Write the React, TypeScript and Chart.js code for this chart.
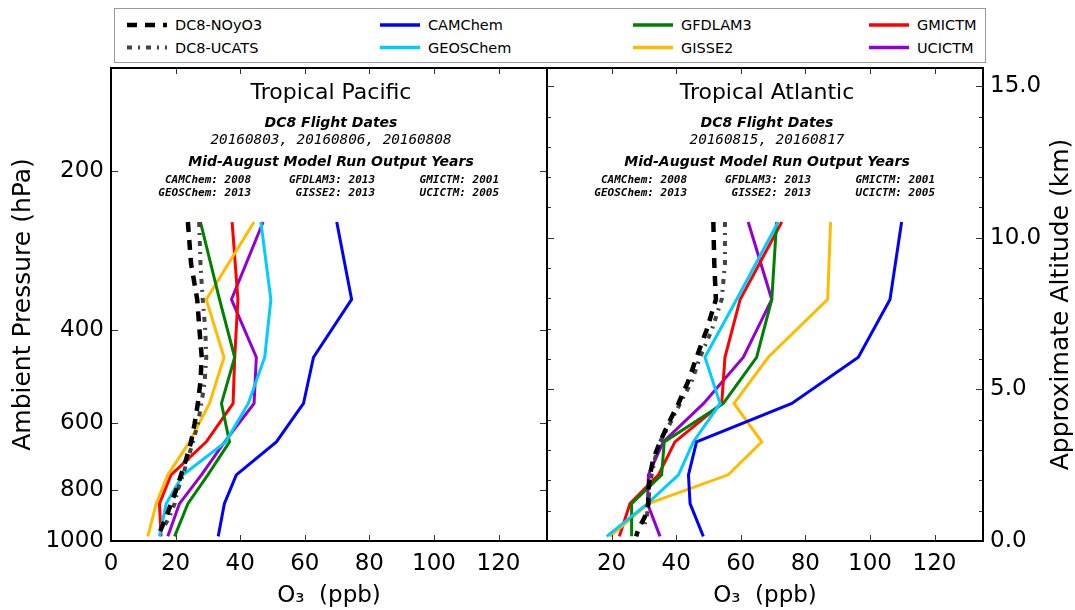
import React, { useEffect, useRef } from 'react';
import { Chart, registerables } from 'chart.js';

Chart.register(...registerables);

const SANS = '"DejaVu Sans", "Liberation Sans", sans-serif';
const MONO = '"DejaVu Sans Mono", "Liberation Mono", monospace';

// ---- axes ----
const xTicks = [0, 20, 40, 60, 80, 100, 120];
const pressureTicks = [200, 400, 600, 800, 1000];
const altitudeTicks = [0, 1, 2, 3, 4, 5, 6, 7, 8, 9, 10, 11, 12, 13, 14, 15];

// ---- vertical levels (hPa) ----
const modelLevels = [250, 350, 450, 550, 650, 750, 850, 980];
const obsLevels = [250, 300, 350, 400, 450, 500, 550, 600, 650, 700, 750, 800, 850, 900, 950, 980];
const ucatsLevels = [250, 300, 350, 400, 450, 500, 550, 600, 650, 700, 750, 800, 850, 900, 950];

// ---- Tropical Pacific (O3 ppb) ----
const pacNOyO3 = [23.8, 24.8, 26.7, 27.4, 28.1, 27.7, 26.9, 25.9, 24.8, 23.3, 21.7, 20.2, 18.6, 17.1, 15.5, 14.5];
const pacUCATS = [27.3, 27.7, 28.4, 29.2, 29.5, 29.0, 28.0, 26.9, 25.4, 23.8, 22.3, 20.7, 19.7, 18.1, 16.0];
const pacCAMChem = [69.9, 74.5, 62.7, 59.6, 51.2, 38.8, 35.1, 33.2];
const pacGEOSChem = [46.4, 49.5, 47.6, 42.5, 35.5, 22.3, 17.1, 15.0];
const pacGFDLAM3 = [27.7, 33.6, 38.3, 34.2, 36.7, 30.0, 23.8, 19.7];
const pacGISSE2 = [44.3, 29.5, 35.0, 30.5, 24.3, 17.6, 14.0, 11.4];
const pacGMICTM = [37.5, 39.3, 38.3, 37.8, 29.5, 18.6, 15.0, 15.5];
const pacUCICTM = [47.1, 37.3, 45.0, 44.3, 35.2, 28.0, 21.2, 17.6];

// ---- Tropical Atlantic (O3 ppb) ----
const atlNOyO3 = [51.5, 51.8, 52.3, 49.4, 46.3, 43.7, 40.7, 37.6, 35.0, 32.9, 31.9, 31.4, 31.4, 30.3, 28.3, 27.6];
const atlUCATS = [55.1, 55.1, 54.1, 51.0, 47.4, 44.8, 41.2, 38.1, 35.0, 33.4, 32.4, 31.7, 31.4, 30.9, 29.8];
const atlCAMChem = [109.8, 106.2, 96.4, 75.8, 46.3, 43.8, 44.3, 48.4];
const atlGEOSChem = [71.6, 58.7, 48.9, 53.6, 45.3, 40.7, 31.1, 18.5];
const atlGFDLAM3 = [71.1, 69.6, 64.9, 54.6, 36.3, 35.5, 26.2, 26.2];
const atlGISSE2 = [87.8, 86.9, 68.5, 57.9, 66.5, 56.1, 31.4, 19.5];
const atlGMICTM = [72.7, 59.8, 55.1, 54.1, 39.6, 34.5, 25.7, 22.4];
const atlUCICTM = [62.3, 69.6, 60.8, 48.5, 36.0, 31.4, 31.1, 35.0];

// ---- text ----
const panelTitles = ['Tropical Pacific', 'Tropical Atlantic'];
const flightDates = ['20160803, 20160806, 20160808', '20160815, 20160817'];
const modelYearsRow1 = ['CAMChem: 2008', 'GFDLAM3: 2013', 'GMICTM: 2001'];
const modelYearsRow2 = ['GEOSChem: 2013', 'GISSE2: 2013', 'UCICTM: 2005'];

const COLORS = {
  NOyO3: '#000000',
  UCATS: '#444444',
  CAMChem: '#0000ff',
  GEOSChem: '#00ccff',
  GFDLAM3: '#008000',
  GISSE2: '#ffbb00',
  GMICTM: '#ff0000',
  UCICTM: '#9400d3',
};
const NOYO3_DASH = [10, 8];
const UCATS_DASH = [5, 6, 2, 6];

function pts(vals: number[], levels: number[]) {
  return vals.map((v, i) => ({ x: v, y: levels[i] }));
}

function buildDatasets(obs1: number[], obs2: number[], models: number[][]) {
  const names = ['CAMChem', 'GEOSChem', 'GFDLAM3', 'GISSE2', 'GMICTM', 'UCICTM'];
  const base = { pointRadius: 0, fill: false, tension: 0 };
  return [
    { ...base, label: 'DC8-NOyO3', data: pts(obs1, obsLevels), borderColor: COLORS.NOyO3, borderWidth: 4.5, borderDash: NOYO3_DASH },
    { ...base, label: 'DC8-UCATS', data: pts(obs2, ucatsLevels), borderColor: COLORS.UCATS, borderWidth: 4, borderDash: UCATS_DASH },
    ...names.map((n, i) => ({
      ...base,
      label: n,
      data: pts(models[i], modelLevels),
      borderColor: (COLORS as any)[n],
      borderWidth: 3,
    })),
  ];
}

function makeFramePlugin(vScale: string, vTicks: number[], majorStep: number) {
  return {
    id: 'frame',
    afterDatasetsDraw(chart: any) {
      const { ctx, chartArea } = chart;
      const { left, right, top, bottom } = chartArea;
      const xs = chart.scales.x;
      const vs = chart.scales[vScale];
      ctx.save();
      ctx.strokeStyle = '#333';
      ctx.lineWidth = 1;
      ctx.beginPath();
      for (const v of xTicks) {
        const px = Math.round(xs.getPixelForValue(v)) + 0.5;
        ctx.moveTo(px, bottom);
        ctx.lineTo(px, bottom - 6);
        ctx.moveTo(px, top);
        ctx.lineTo(px, top + 6);
      }
      for (const v of vTicks) {
        const py = Math.round(vs.getPixelForValue(v)) + 0.5;
        const len = v % majorStep === 0 ? 7 : 4;
        ctx.moveTo(left, py);
        ctx.lineTo(left + len, py);
        ctx.moveTo(right, py);
        ctx.lineTo(right - len, py);
      }
      ctx.stroke();
      ctx.strokeStyle = '#000';
      ctx.lineWidth = 2;
      ctx.strokeRect(left, top, right - left, bottom - top);
      ctx.restore();
    },
  };
}

function makeTextPlugin(idx: number, rightTitle: string | null) {
  return {
    id: 'panelText',
    afterDraw(chart: any) {
      const { ctx, chartArea } = chart;
      const { left, right, top, bottom } = chartArea;
      const cx = (left + right) / 2 + 2;
      ctx.save();
      ctx.fillStyle = '#000';
      ctx.textBaseline = 'middle';
      ctx.textAlign = 'center';
      ctx.font = `22px ${SANS}`;
      ctx.fillText(panelTitles[idx], cx, top + 25);
      ctx.font = `italic bold 14px ${SANS}`;
      ctx.fillText('DC8 Flight Dates', cx, top + 55);
      ctx.font = `italic 14.3px ${MONO}`;
      ctx.fillText(flightDates[idx], cx, top + 72);
      ctx.font = `italic bold 14px ${SANS}`;
      ctx.fillText('Mid-August Model Run Output Years', cx, top + 94);
      ctx.font = `italic bold 11px ${MONO}`;
      ctx.textAlign = 'right';
      const colRights = [140, 264, 388];
      colRights.forEach((cr, i) => {
        ctx.fillText(modelYearsRow1[i], left + cr, top + 112);
        ctx.fillText(modelYearsRow2[i], left + cr, top + 125);
      });
      if (rightTitle) {
        ctx.save();
        ctx.translate(right + 78, (top + bottom) / 2);
        ctx.rotate(-Math.PI / 2);
        ctx.textAlign = 'center';
        ctx.font = `25px ${SANS}`;
        ctx.fillText(rightTitle, 0, 0);
        ctx.restore();
      }
      ctx.restore();
    },
  };
}

function xScale(showZero: boolean) {
  return {
    type: 'linear',
    min: 0,
    max: 135,
    position: 'bottom',
    grid: { display: false, drawTicks: false },
    border: { display: false },
    afterBuildTicks: (s: any) => {
      s.ticks = xTicks.map((v) => ({ value: v }));
    },
    afterFit: (s: any) => {
      s.height = 69;
    },
    ticks: {
      color: '#000',
      font: { family: SANS, size: 23 },
      padding: 9,
      autoSkip: false,
      maxRotation: 0,
      callback: (v: any) => (v === 0 && !showZero ? '' : String(v)),
    },
    title: {
      display: true,
      text: 'O₃  (ppb)',
      color: '#000',
      font: { family: SANS, size: 23 },
      padding: { top: 0, bottom: 0 },
    },
  };
}

function pressureScale(display: boolean) {
  return {
    type: 'logarithmic',
    reverse: true,
    min: 128,
    max: 1000,
    position: 'left',
    display,
    grid: { display: false, drawTicks: false },
    border: { display: false },
    afterBuildTicks: (s: any) => {
      s.ticks = pressureTicks.map((v) => ({ value: v }));
    },
    afterFit: (s: any) => {
      if (display) s.width = 111;
    },
    ticks: {
      color: '#000',
      font: { family: SANS, size: 23 },
      padding: 7,
      autoSkip: false,
      callback: (v: any) => String(v),
    },
    title: {
      display: true,
      text: 'Ambient Pressure (hPa)',
      color: '#000',
      font: { family: SANS, size: 25 },
      padding: { top: 8, bottom: 0 },
    },
  };
}

function altitudeScale(display: boolean) {
  return {
    type: 'linear',
    min: 0,
    max: 15.6,
    position: 'right',
    display,
    grid: { display: false, drawTicks: false },
    border: { display: false },
    afterBuildTicks: (s: any) => {
      s.ticks = altitudeTicks.map((v) => ({ value: v }));
    },
    afterFit: (s: any) => {
      if (display) s.width = 92;
    },
    ticks: {
      color: '#000',
      font: { family: SANS, size: 23 },
      padding: 7,
      autoSkip: false,
      callback: (v: any) => (v % 5 === 0 ? Number(v).toFixed(1) : ''),
    },
  };
}

const legendCols = [
  [
    { label: 'DC8-NOyO3', color: COLORS.NOyO3, dash: NOYO3_DASH, width: 4.5 },
    { label: 'DC8-UCATS', color: COLORS.UCATS, dash: UCATS_DASH, width: 4 },
  ],
  [
    { label: 'CAMChem', color: COLORS.CAMChem, dash: null, width: 3.5 },
    { label: 'GEOSChem', color: COLORS.GEOSChem, dash: null, width: 3.5 },
  ],
  [
    { label: 'GFDLAM3', color: COLORS.GFDLAM3, dash: null, width: 3.5 },
    { label: 'GISSE2', color: COLORS.GISSE2, dash: null, width: 3.5 },
  ],
  [
    { label: 'GMICTM', color: COLORS.GMICTM, dash: null, width: 3.5 },
    { label: 'UCICTM', color: COLORS.UCICTM, dash: null, width: 3.5 },
  ],
];
const legendColX = [127, 380, 633, 869];
const legendRowY = [25, 47.5];

function Legend() {
  return (
    <svg
      width={1075}
      height={70}
      style={{ position: 'absolute', left: 0, top: 0 }}
    >
      <rect x={114.5} y={8.5} width={871} height={54} fill="#fff" stroke="#999" strokeWidth={1} />
      {legendCols.map((col, ci) =>
        col.map((it, ri) => (
          <g key={it.label}>
            <line
              x1={legendColX[ci]}
              x2={legendColX[ci] + 40}
              y1={legendRowY[ri]}
              y2={legendRowY[ri]}
              stroke={it.color}
              strokeWidth={it.width}
              strokeDasharray={it.dash ? it.dash.join(' ') : undefined}
            />
            <text
              x={legendColX[ci] + 48}
              y={legendRowY[ri]}
              dominantBaseline="central"
              fontFamily={SANS}
              fontSize={14.5}
              fill="#000"
            >
              {it.label}
            </text>
          </g>
        ))
      )}
    </svg>
  );
}

export default function App() {
  const leftRef = useRef<HTMLCanvasElement | null>(null);
  const rightRef = useRef<HTMLCanvasElement | null>(null);

  useEffect(() => {
    Chart.defaults.font.family = SANS;
    Chart.defaults.color = '#000';
    const common = {
      animation: false,
      responsive: false,
      maintainAspectRatio: false,
      plugins: { legend: { display: false }, tooltip: { enabled: false } },
    };
    const left = new Chart(leftRef.current as HTMLCanvasElement, {
      type: 'line',
      data: {
        datasets: buildDatasets(pacNOyO3, pacUCATS, [pacCAMChem, pacGEOSChem, pacGFDLAM3, pacGISSE2, pacGMICTM, pacUCICTM]) as any,
      },
      options: {
        ...common,
        layout: { padding: { left: 0, top: 68, right: 1, bottom: 0 } },
        scales: {
          x: xScale(true),
          y: pressureScale(true),
        } as any,
      } as any,
      plugins: [makeFramePlugin('y', pressureTicks, 200), makeTextPlugin(0, null)],
    });
    const right = new Chart(rightRef.current as HTMLCanvasElement, {
      type: 'line',
      data: {
        datasets: buildDatasets(atlNOyO3, atlUCATS, [atlCAMChem, atlGEOSChem, atlGFDLAM3, atlGISSE2, atlGMICTM, atlUCICTM]) as any,
      },
      options: {
        ...common,
        layout: { padding: { left: 12, top: 68, right: 0, bottom: 0 } },
        scales: {
          x: xScale(false),
          y: pressureScale(false),
          alt: altitudeScale(true),
        } as any,
      } as any,
      plugins: [makeFramePlugin('alt', altitudeTicks, 5), makeTextPlugin(1, 'Approximate Altitude (km)')],
    });
    return () => {
      left.destroy();
      right.destroy();
    };
  }, []);

  return (
    <div style={{ position: 'absolute', left: 0, top: 0, width: 1075, height: 610, background: '#fff', overflow: 'hidden' }}>
      <canvas ref={leftRef} width={548} height={610} style={{ position: 'absolute', left: 0, top: 0 }} />
      <canvas ref={rightRef} width={540} height={610} style={{ position: 'absolute', left: 535, top: 0 }} />
      <Legend />
    </div>
  );
}
